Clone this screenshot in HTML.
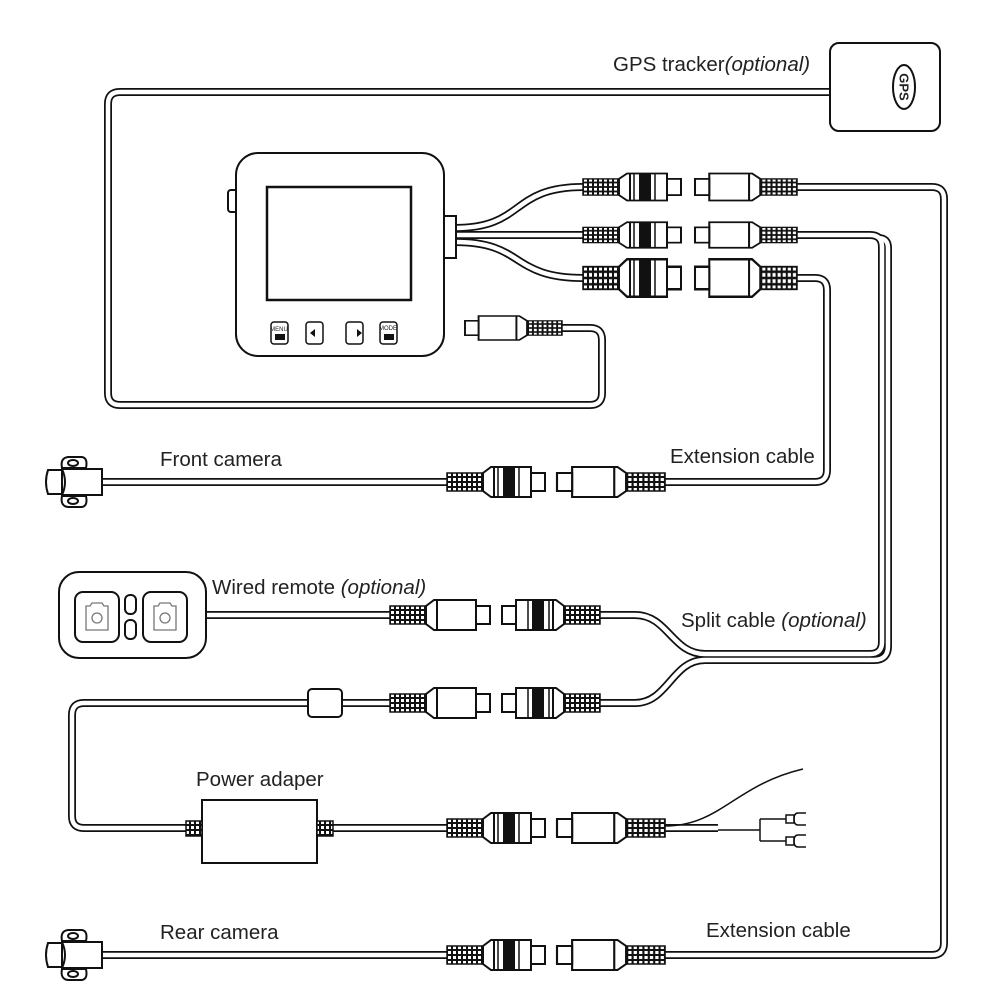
<!DOCTYPE html>
<html><head><meta charset="utf-8"><style>
html,body{margin:0;padding:0;background:#fff}
svg{display:block}
.k{fill:none;stroke:#111;stroke-width:8;stroke-linejoin:round}
.w{fill:none;stroke:#fff;stroke-width:4.5;stroke-linejoin:round}
text{font-family:"Liberation Sans",sans-serif;font-size:20.5px;fill:#222}
.o{font-style:italic}
.s{fill:#fff;stroke:#111;stroke-width:2}
</style></head><body>
<svg width="1001" height="1001" viewBox="0 0 1001 1001" xmlns="http://www.w3.org/2000/svg">
<defs>
<pattern id="gp" width="5" height="5" patternUnits="userSpaceOnUse">
<rect width="5" height="5" fill="#111"/><rect x="1" y="1" width="3" height="3" fill="#fff"/>
</pattern>
<g id="F">
<rect x="0" y="-9" width="36" height="18" fill="url(#gp)" stroke="#111" stroke-width="1.5"/>
<path d="M36 -9 L44 -15 H84 V15 H44 L36 9 Z" fill="#fff" stroke="#111" stroke-width="2"/>
<line x1="47" y1="-15" x2="47" y2="15" stroke="#111" stroke-width="2"/>
<line x1="51" y1="-15" x2="51" y2="15" stroke="#111" stroke-width="1.5"/>
<rect x="56" y="-15" width="12" height="30" fill="#111"/>
<line x1="72" y1="-15" x2="72" y2="15" stroke="#111" stroke-width="1.5"/>
<rect x="84" y="-9" width="14" height="18" fill="#fff" stroke="#111" stroke-width="2"/>
</g>
<g id="P">
<rect x="0" y="-9" width="36" height="18" fill="url(#gp)" stroke="#111" stroke-width="1.5"/>
<path d="M36 -9 L44 -15 H86 V15 H44 L36 9 Z" fill="#fff" stroke="#111" stroke-width="2"/>
<line x1="47" y1="-15" x2="47" y2="15" stroke="#111" stroke-width="2"/>
<rect x="86" y="-9" width="14" height="18" fill="#fff" stroke="#111" stroke-width="2"/>
</g>
<g id="cam">
<path d="M20 -14 Q18 -24 26 -25 H40 Q46 -24 44 -14 Z" fill="#fff" stroke="#111" stroke-width="2"/>
<path d="M20 14 Q18 24 26 25 H40 Q46 24 44 14 Z" fill="#fff" stroke="#111" stroke-width="2"/>
<ellipse cx="31" cy="-19" rx="5" ry="3" fill="#fff" stroke="#111" stroke-width="2"/>
<ellipse cx="31" cy="19" rx="5" ry="3" fill="#fff" stroke="#111" stroke-width="2"/>
<path d="M20 -13 H60 V13 H20 Z" fill="#fff" stroke="#111" stroke-width="2"/>
<path d="M20 -13 Q26 0 20 13" fill="none" stroke="#111" stroke-width="2"/>
<path d="M6 -12 H20 V12 H6 Q2 0 6 -12 Z" fill="#fff" stroke="#111" stroke-width="2"/>
</g>
</defs>

<g class="k">
<path d="M562 328 H590 Q602 328 602 340 V393 Q602 405 590 405 H120 Q108 405 108 393 V104 Q108 92 120 92 H832"/>
<path d="M455 228 C525 228 510 187 583 187"/>
<path d="M455 235 H583"/>
<path d="M455 242 C525 242 510 278 583 278"/>
<path d="M797 187 H932 Q944 187 944 199 V943 Q944 955 932 955 H665"/>
<path d="M797 235 H870 Q882 235 882 247 V642 Q882 654 870 654 H705 C672 654 668 615 635 615 H600"/>
<path d="M797 278 H815 Q827 278 827 290 V470 Q827 482 815 482 H665"/>
<path d="M600 703 H635 C668 703 672 660 705 660 H874 Q888 660 888 646 V248 Q888 238 878 238"/>
<path d="M100 482 H447"/>
<path d="M205 615 H390"/>
<path d="M100 955 H447"/>
<path d="M390 703 H320"/>
<path d="M320 703 H84 Q72 703 72 715 V816 Q72 828 84 828 H202"/>
<path d="M317 828 H447"/>
<path d="M665 828 H718"/>
</g>
<g class="w">
<path d="M562 328 H590 Q602 328 602 340 V393 Q602 405 590 405 H120 Q108 405 108 393 V104 Q108 92 120 92 H832"/>
<path d="M455 228 C525 228 510 187 583 187"/>
<path d="M455 235 H583"/>
<path d="M455 242 C525 242 510 278 583 278"/>
<path d="M797 187 H932 Q944 187 944 199 V943 Q944 955 932 955 H665"/>
<path d="M797 235 H870 Q882 235 882 247 V642 Q882 654 870 654 H705 C672 654 668 615 635 615 H600"/>
<path d="M797 278 H815 Q827 278 827 290 V470 Q827 482 815 482 H665"/>
<path d="M600 703 H635 C668 703 672 660 705 660 H874 Q888 660 888 646 V248 Q888 238 878 238"/>
<path d="M100 482 H447"/>
<path d="M205 615 H390"/>
<path d="M100 955 H447"/>
<path d="M390 703 H320"/>
<path d="M320 703 H84 Q72 703 72 715 V816 Q72 828 84 828 H202"/>
<path d="M317 828 H447"/>
<path d="M665 828 H718"/>
</g>

<rect x="830" y="43" width="110" height="88" rx="9" class="s"/>
<ellipse cx="904" cy="87" rx="11" ry="22" fill="#fff" stroke="#111" stroke-width="2"/>
<text x="904" y="87" transform="rotate(90 904 87)" text-anchor="middle" dominant-baseline="central" style="font-size:13px;font-weight:bold">GPS</text>

<rect x="228" y="190" width="10" height="22" rx="3" class="s"/>
<rect x="440" y="216" width="16" height="42" class="s"/>
<rect x="236" y="153" width="208" height="203" rx="22" class="s"/>
<rect x="267" y="187" width="144" height="113" fill="#fff" stroke="#111" stroke-width="2.5"/>
<g stroke="#111" stroke-width="1.5" fill="#fff">
<rect x="271" y="322" width="17" height="22" rx="3"/>
<rect x="306" y="322" width="17" height="22" rx="3"/>
<rect x="346" y="322" width="17" height="22" rx="3"/>
<rect x="380" y="322" width="17" height="22" rx="3"/>
</g>
<rect x="275" y="334" width="10" height="6" fill="#111"/>
<rect x="384" y="334" width="10" height="6" fill="#111"/>
<text x="279" y="331" text-anchor="middle" style="font-size:6px">MENU</text>
<text x="388" y="330" text-anchor="middle" style="font-size:6px">MODE</text>
<path d="M310 333 l5 -4 v8z" fill="#111"/>
<path d="M357 329 l5 4 l-5 4z" fill="#111"/>

<use href="#F" transform="translate(583,187) scale(1,0.9)"/>
<use href="#P" transform="translate(797,187) scale(-1.02,0.9)"/>
<use href="#F" transform="translate(583,235) scale(1,0.85)"/>
<use href="#P" transform="translate(797,235) scale(-1.02,0.85)"/>
<use href="#F" transform="translate(583,278) scale(1,1.25)"/>
<use href="#P" transform="translate(797,278) scale(-1.02,1.25)"/>
<use href="#P" transform="translate(562,328) scale(-0.97,0.8)"/>
<use href="#F" transform="translate(447,482)"/>
<use href="#P" transform="translate(665,482) scale(-1.08,1)"/>
<use href="#P" transform="translate(390,615)"/>
<use href="#F" transform="translate(600,615) scale(-1,1)"/>
<use href="#P" transform="translate(390,703)"/>
<use href="#F" transform="translate(600,703) scale(-1,1)"/>
<use href="#F" transform="translate(447,828)"/>
<use href="#P" transform="translate(665,828) scale(-1.08,1)"/>
<use href="#F" transform="translate(447,955)"/>
<use href="#P" transform="translate(665,955) scale(-1.08,1)"/>

<rect x="308" y="689" width="34" height="28" rx="4" class="s"/>
<rect x="202" y="800" width="115" height="63" class="s"/>
<rect x="186" y="821" width="16" height="15" fill="url(#gp)" stroke="#111" stroke-width="1.5"/>
<rect x="317" y="821" width="16" height="15" fill="url(#gp)" stroke="#111" stroke-width="1.5"/>

<g fill="none" stroke="#111" stroke-width="1.5">
<path d="M665 826 C720 826 735 785 803 769"/>
<path d="M718 830 H760 M760 819 V841 M760 819 H786 M760 841 H786"/>
<path d="M786 815 h8 v8 h-8z M786 837 h8 v8 h-8z"/>
<path d="M806 813 h-8 q-4 0 -4 6 q0 6 4 6 h8 M806 835 h-8 q-4 0 -4 6 q0 6 4 6 h8"/>
</g>

<use href="#cam" transform="translate(42,482)"/>
<use href="#cam" transform="translate(42,955)"/>

<rect x="59" y="572" width="147" height="86" rx="20" class="s"/>
<rect x="75" y="592" width="44" height="50" rx="8" class="s"/>
<rect x="143" y="592" width="44" height="50" rx="8" class="s"/>
<rect x="125" y="595" width="11" height="19" rx="5" class="s"/>
<rect x="125" y="620" width="11" height="19" rx="5" class="s"/>
<g fill="none" stroke="#777" stroke-width="1.3">
<path d="M86 606 h4 l2 -3 h10 l2 3 h4 v24 h-22z"/><circle cx="97" cy="618" r="5"/>
<path d="M154 606 h4 l2 -3 h10 l2 3 h4 v24 h-22z"/><circle cx="165" cy="618" r="5"/>
</g>

<text x="613" y="71">GPS tracker<tspan class="o">(optional)</tspan></text>
<text x="160" y="466">Front camera</text>
<text x="670" y="463">Extension cable</text>
<text x="212" y="594">Wired remote <tspan class="o">(optional)</tspan></text>
<text x="681" y="627">Split cable <tspan class="o">(optional)</tspan></text>
<text x="196" y="786">Power adaper</text>
<text x="160" y="939">Rear camera</text>
<text x="706" y="937">Extension cable</text>
</svg>
</body></html>
